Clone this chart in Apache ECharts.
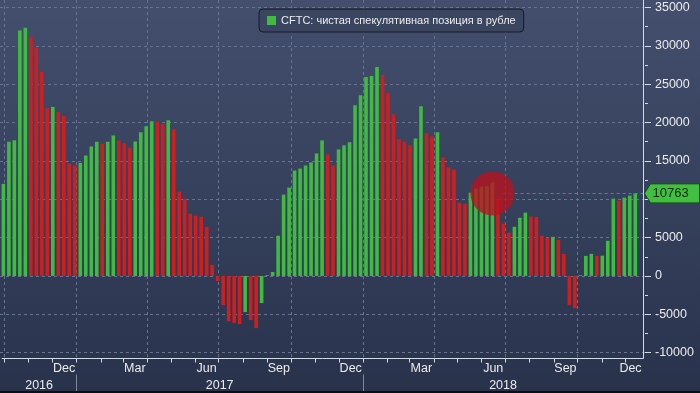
<!DOCTYPE html>
<html><head><meta charset="utf-8">
<script src="https://cdn.jsdelivr.net/npm/echarts@6/dist/echarts.min.js"></script>
<style>html,body{margin:0;padding:0;background:#2e3955}#c{width:700px;height:393px}</style>
</head><body><div id="c"></div>
<script>
// ---- data ----
const seriesName = 'CFTC: чистая спекулятивная позиция в рубле';
const firstReport = '2016-09-30';           // first weekly observation (weekly steps)
const axisStart = '2016-09-28T00:00:00Z';
const axisEnd = '2018-12-24T02:00:00Z';
const positions = [
  12000, 17500, 17700, 32000, 32350, 31170, 29700, 26600, 21870, 22040,
  21390, 20870, 14610, 14350, 14740, 15700, 16870, 17480, 17220, 17480,
  18320, 17670, 17280, 16710, 17540, 18720, 19500, 20160, 20100, 19760,
  20290, 19110, 10990, 10080, 8115, 7850, 7720, 6410, 1440, -650,
  -3800, -5890, -6150, -6280, -4710, -5760, -6800, -3530, 100, 520,
  5240, 10600, 11520, 13740, 14000, 14400, 14790, 15970, 17670, 15840,
  14400, 16490, 17020, 17410, 22250, 23560, 25920, 26050, 27230, 26180,
  23820, 21070, 17800, 17540, 17020, 17930, 22120, 18590, 18190, 18720,
  15450, 14140, 13870, 9555, 9420, 10860, 11390, 11650, 11700, 12170,
  10080, 6810, 5630, 6410, 7590, 8250, 7750, 7700, 5240, 4970,
  5100, 4710, 2880, -3800, -4190, 100, 2620, 2880, 2620, 2650,
  4580, 10080, 9820, 10210, 10470, 10763
];
const lastValue = 10763;
const highlightWeek = '2018-06-15';
const highlightLineFrom = '2018-06-28';
const monthNames = ['Jan','Feb','Mar','Apr','May','Jun','Jul','Aug','Sep','Oct','Nov','Dec'];
const labelledMonths = [2, 5, 8, 11];   // Mar, Jun, Sep, Dec
const yearLabels = [2016, 2017, 2018];
const yMin = -10000, yMax = 35000, yStep = 5000;

// ---- styles ----
const GREEN = '#3fbb3f', RED = '#d01e1e';
const GRID = '#66748f', AXIS = '#d4d9e2', TXT = '#ececec';
const FONT = '"Liberation Sans", Arial, sans-serif';
const DAY = 86400000;

const t0 = Date.parse(firstReport + 'T00:00:00Z');
const barData = positions.map((v, i) => ({
  value: [t0 + i * 7 * DAY, v],
  itemStyle: { color: (i === 0 || v >= positions[i - 1]) ? GREEN : RED }
}));

const chart = echarts.init(document.getElementById('c'), null, { renderer: 'canvas' });
const option = {
  animation: false,
  backgroundColor: { type: 'linear', x: 0, y: 0, x2: 0, y2: 1,
    colorStops: [{ offset: 0, color: '#434f6d' }, { offset: 1, color: '#28324b' }] },
  grid: { left: 0, right: 55, top: 7.4, bottom: 40.3 },
  legend: {
    data: [{ name: seriesName, icon: 'rect', itemStyle: { color: GREEN } }],
    left: 259, top: 9, padding: [6, 8], itemWidth: 9, itemHeight: 9,
    selectedMode: false,
    textStyle: { color: '#ededed', fontSize: 11, fontFamily: FONT },
    borderColor: '#161b27', borderWidth: 1, borderRadius: 4,
    backgroundColor: 'rgba(58,69,96,0.95)'
  },
  xAxis: { type: 'time', min: Date.parse(axisStart), max: Date.parse(axisEnd), show: false },
  yAxis: {
    type: 'value', position: 'right', min: yMin, max: yMax, interval: yStep,
    axisLine: { show: false },
    axisTick: { show: true, length: 6, lineStyle: { color: AXIS } },
    minorTick: { show: true, splitNumber: 2, length: 3, lineStyle: { color: AXIS } },
    splitLine: { show: true, lineStyle: { color: GRID, type: [3, 3] } },
    axisLabel: { color: TXT, fontSize: 12.5, fontFamily: FONT, margin: 10, formatter: v => String(v) }
  },
  series: [{
    type: 'bar', name: seriesName, data: barData, barWidth: 3.6, z: 3,
    markPoint: {
      silent: true, symbol: 'circle', symbolSize: 44,
      itemStyle: { color: 'rgba(185,18,30,0.78)', opacity: 1 },
      label: { show: false },
      data: [{ coord: [Date.parse(highlightWeek + 'T00:00:00Z'), lastValue] }]
    },
    markLine: {
      silent: true, symbol: 'none', label: { show: false },
      lineStyle: { color: '#c2508a', type: [3, 3], width: 1, opacity: 1 },
      data: [[{ coord: [Date.parse(highlightLineFrom + 'T00:00:00Z'), lastValue] },
              { coord: [Date.parse(axisEnd), lastValue] }]]
    }
  }]
};
chart.setOption(option);

// ---- axis decorations through the chart's own scales ----
const px = t => chart.convertToPixel({ xAxisIndex: 0 }, t);
const py = v => chart.convertToPixel({ yAxisIndex: 0 }, v);
const tStart = Date.parse(axisStart), endT = Date.parse(axisEnd);
const xStart = px(tStart);
const xEnd = px(endT);
const yBottom = py(yMin) + 5.5;
const axisX = Math.round(xEnd) + 0.5;
const axisY = Math.round(yBottom) + 0.5;
const els = [];

// month boundaries
const startD = new Date(axisStart);
let y = startD.getUTCFullYear(), m = startD.getUTCMonth() + 1;
if (m > 11) { m = 0; y++; }
while (Date.UTC(y, m, 1) <= endT) {
  const t = Date.UTC(y, m, 1);
  const x = Math.round(px(t)) + 0.5;
  if (m % 3 === 0) {
    els.push({ type: 'line', z: 0, silent: true,
      shape: { x1: x, y1: 0, x2: x, y2: axisY },
      style: { stroke: GRID, lineWidth: 1, lineDash: [3, 3] } });
  }
  els.push({ type: 'line', z: 5, silent: true,
    shape: { x1: x, y1: axisY, x2: x, y2: axisY + 4 },
    style: { stroke: AXIS, lineWidth: 1 } });
  m++; if (m > 11) { m = 0; y++; }
}
// month labels (centred in the visible part of the month)
for (let yy = 2016; yy <= 2018; yy++) {
  labelledMonths.forEach(mm => {
    const a = Math.max(Date.UTC(yy, mm, 1), tStart), b = Math.min(Date.UTC(yy, mm + 1, 1), endT);
    if (b - a < 14 * DAY) return;
    let cx = (px(a) + px(b)) / 2;
    cx = Math.min(cx, axisX - 13);
    els.push({ type: 'text', z: 5, silent: true, x: cx, y: axisY + 10,
      style: { text: monthNames[mm], fill: TXT, font: '12.5px ' + FONT, align: 'center', verticalAlign: 'middle' } });
  });
}
// years
yearLabels.forEach(yy => {
  const a = Math.max(Date.UTC(yy, 0, 1), tStart);
  const b = Math.min(Date.UTC(yy + 1, 0, 1), endT);
  els.push({ type: 'text', z: 5, silent: true, x: (px(a) + px(b)) / 2, y: axisY + 27,
    style: { text: String(yy), fill: TXT, font: '12.5px ' + FONT, align: 'center', verticalAlign: 'middle' } });
  if (Date.UTC(yy, 0, 1) > tStart) {
    const x = Math.round(px(Date.UTC(yy, 0, 1))) + 0.5;
    els.push({ type: 'line', z: 5, silent: true,
      shape: { x1: x, y1: axisY + 16, x2: x, y2: 393 },
      style: { stroke: '#7c879c', lineWidth: 1 } });
  }
});
// axis lines
els.push({ type: 'line', z: 5, silent: true, shape: { x1: xStart, y1: axisY, x2: axisX, y2: axisY }, style: { stroke: AXIS, lineWidth: 1 } });
els.push({ type: 'line', z: 5, silent: true, shape: { x1: axisX, y1: 0, x2: axisX, y2: axisY }, style: { stroke: AXIS, lineWidth: 1 } });
// bottom dark edge
els.push({ type: 'rect', z: 5, silent: true, shape: { x: 0, y: 391, width: 700, height: 2 }, style: { fill: '#0c0f16' } });
// last value badge
const yv = py(lastValue);
const tip = axisX + 1;
els.push({ type: 'polygon', z: 100, silent: true,
  shape: { points: [[tip, yv], [tip + 6, yv - 9.5], [699.5, yv - 9.5], [699.5, yv + 9.5], [tip + 6, yv + 9.5]] },
  style: { fill: '#40bf40', stroke: '#1d4d1d', lineWidth: 1 } });
els.push({ type: 'text', z: 101, silent: true, x: tip + 8, y: yv + 0.5,
  style: { text: String(lastValue), fill: '#0d260d', font: '13px ' + FONT, align: 'left', verticalAlign: 'middle' } });

chart.setOption({ graphic: { elements: els } });
</script>
</body></html>
